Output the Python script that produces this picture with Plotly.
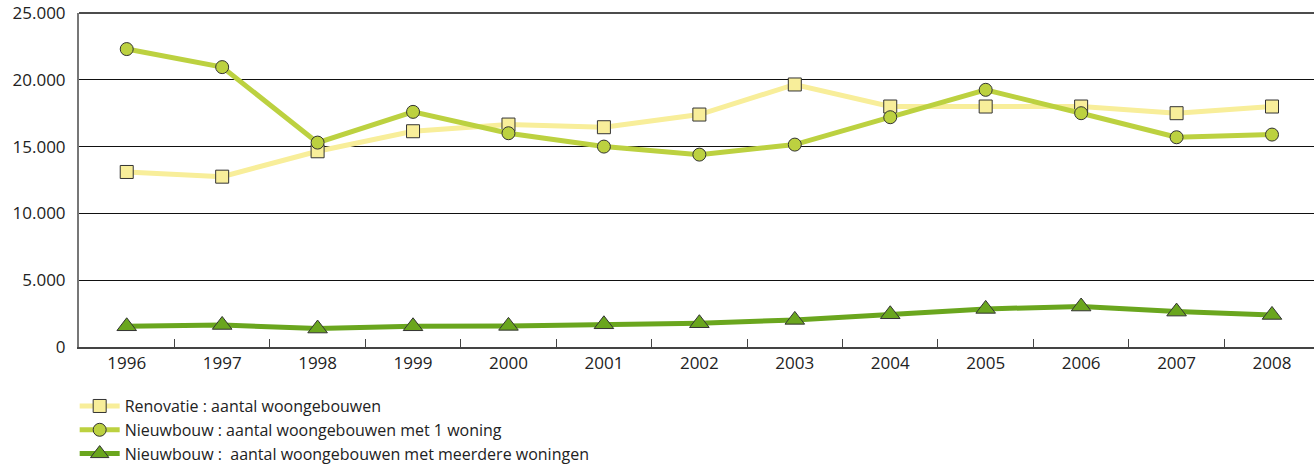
import plotly.graph_objects as go

years = ["1996", "1997", "1998", "1999", "2000", "2001", "2002", "2003", "2004", "2005", "2006", "2007", "2008"]
renovatie = [13100, 12750, 14650, 16150, 16650, 16450, 17400, 19650, 18000, 18000, 18000, 17500, 18000]
nieuw_1 = [22300, 20950, 15300, 17600, 16000, 15000, 14400, 15150, 17200, 19250, 17500, 15700, 15900]
nieuw_meer = [1550, 1650, 1380, 1550, 1580, 1700, 1780, 2030, 2450, 2850, 3030, 2650, 2400]

names = [
    "Renovatie : aantal woongebouwen",
    "Nieuwbouw : aantal woongebouwen met 1 woning",
    "Nieuwbouw :  aantal woongebouwen met meerdere woningen",
]
y_ticks = [0, 5000, 10000, 15000, 20000, 25000]

fig = go.Figure()
fig.add_trace(go.Scatter(
    x=years, y=renovatie, name=names[0], mode="lines+markers",
    line=dict(color="#F8EE9A", width=5),
    marker=dict(symbol="square", size=13, color="#F8EE9A", line=dict(color="#333333", width=1)),
))
fig.add_trace(go.Scatter(
    x=years, y=nieuw_1, name=names[1], mode="lines+markers",
    line=dict(color="#BCD140", width=5),
    marker=dict(symbol="circle", size=13, color="#BCD140", line=dict(color="#333333", width=1)),
))
fig.add_trace(go.Scatter(
    x=years, y=nieuw_meer, name=names[2], mode="lines+markers",
    line=dict(color="#6AA61E", width=5),
    marker=dict(symbol="triangle-up", size=17, color="#6AA61E", line=dict(color="#333333", width=1)),
))

fig.update_layout(
    width=1314, height=464,
    margin=dict(l=79, r=0, t=13, b=117, autoexpand=False),
    paper_bgcolor="white", plot_bgcolor="white",
    separators=",.",
    font=dict(family="Open Sans, Noto Sans, sans-serif", size=16, color="#222222"),
    showlegend=True,
    legend=dict(
        x=-0.0035, y=-0.126, xanchor="left", yanchor="top",
        orientation="v", tracegroupgap=0, itemwidth=40,
        font=dict(size=16, color="#222222"),
        bgcolor="rgba(0,0,0,0)",
    ),
    xaxis=dict(
        type="category", range=[-0.5, 12.44], automargin=False,
        showline=True, linecolor="#444444", linewidth=2,
        ticks="inside", tickson="boundaries", ticklen=8, tickcolor="#444444", tickwidth=1,
        showgrid=False, tickfont=dict(size=17),
    ),
    yaxis=dict(
        range=[0, 25000], tickvals=y_ticks, tickformat=",d", automargin=False,
        showline=True, linecolor="#777777", linewidth=2,
        showgrid=True, gridcolor="#111111", gridwidth=1,
        zeroline=False, ticks="", ticklabelstandoff=8,
        tickfont=dict(size=17),
    ),
    shapes=[dict(type="line", xref="paper", yref="paper", x0=0, x1=1, y0=1, y1=1,
                 line=dict(color="#111111", width=1.5))],
)

fig.write_html(
    "out.html",
    config={"displayModeBar": False},
    post_script="document.body.style.margin='0';document.body.style.overflow='hidden';",
)
